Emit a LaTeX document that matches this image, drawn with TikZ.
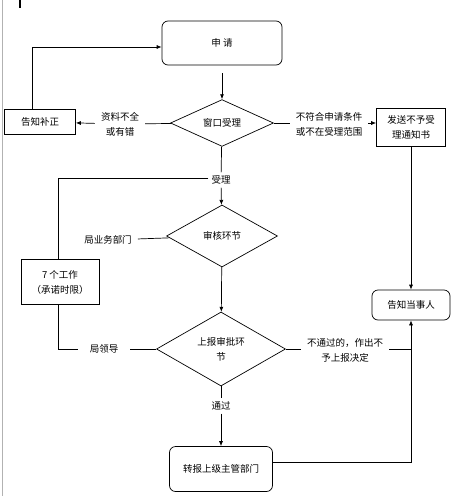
\documentclass[tikz,border=0pt]{standalone}
\usepackage{fontspec}
\newfontfamily\cjk{Noto Sans CJK SC}
\usetikzlibrary{shapes.geometric,arrows.meta}
\tikzset{
	txt/.style={font=\cjk\fontsize{9.5}{15}\selectfont, align=center},
	box/.style={draw, line width=0.7pt, txt, inner sep=0pt},
	rbox/.style={box, rounded corners=6pt},
	decide/.style={draw, diamond, line width=0.7pt, txt, inner sep=0pt},
	lbl/.style={txt, inner sep=6pt},
	flow/.style={line width=0.7pt, -{Latex[length=5pt,width=4pt]}},
	link/.style={line width=0.7pt}
}
\begin{document}
\begin{tikzpicture}[x=1pt, y=-1pt]
			%%%%% START %%%%%
			\useasboundingbox (0, 0) rectangle (463, 496);
			\draw[black!30, line width=0.8pt] (2, 0) -- (2, 496);
			\draw[line width=1.5pt] (20, 0) -- (20, 8);
			
			% boxes
			\node[rbox, minimum width=120pt, minimum height=44pt] (apply) at (222, 43) {申\ 请};
			\node[decide, minimum width=103pt, minimum height=44pt] (window) at (222, 123) {窗口受理};
			\node[box, minimum width=71pt, minimum height=25pt] (notify) at (40, 122) {告知补正};
			\node[box, minimum width=69pt, minimum height=38pt] (reject) at (411, 127) {发送不予受\\理通知书};
			\node[rbox, minimum width=78pt, minimum height=30pt] (tell) at (411, 305) {告知当事人};
			\node[decide, minimum width=111pt, minimum height=62pt] (review) at (222, 236) {审核环节};
			\node[box, minimum width=78pt, minimum height=45pt] (days) at (60, 282) {7 个工作\\（承诺时限）};
			\node[decide, minimum width=129pt, minimum height=74pt] (report) at (221, 349) {上报审批环\\节};
			\node[rbox, minimum width=103pt, minimum height=45pt] (forward) at (221, 469) {转报上级主管部门};
			
			% labels
			\node[lbl] (missing) at (120, 124) {资料不全\\或有错};
			\node[lbl] (outscope) at (329, 124) {不符合申请条件\\或不在受理范围};
			\node[lbl, inner sep=3pt] (accept) at (221, 180) {受理};
			\node[lbl] (dept) at (108, 240) {局业务部门};
			\node[lbl, inner sep=12pt] (leader) at (104, 349) {局领导};
			\node[lbl] (deny) at (345, 350) {不通过的，作出不\\予上报决定};
			\node[lbl, inner sep=3pt] (pass) at (221, 406) {通过};
			
			% connectors
			\draw[flow, shorten <=8pt] (apply) -- (window);
			\draw[link] (window) -- (missing);
			\draw[flow] (missing) -- (notify);
			\draw[flow] ([xshift=-8pt]notify.north) |- ([yshift=-4pt]apply.west);
			\draw[link] (window) -- (window -| outscope.west);
			\draw[flow] (window -| outscope.east) -- (window -| reject.west);
			\draw[flow] (reject) -- (tell);
			
			\draw[link] (window) -- (accept);
			\draw[flow] (accept) -- (review);
			\draw[link] ([yshift=2pt]accept.west) -| ([xshift=-2pt]days.north);
			\draw[link] ([xshift=-2pt]days.south) |- (leader.west);
			\draw[link] (leader) -- (report);
			\draw[link] (dept) -- (review);
			\draw[flow] (review) -- (report);
			
			\draw[link] (report) -- (pass);
			\draw[flow] (pass) -- (forward);
			\draw[link] (report) -- (report -| deny.west);
			\draw[link] (report -| deny.east) -- (report -| tell.south);
			\draw[flow] ([yshift=7pt]forward.east) -| (tell.south);
			%%%%% END %%%%%
\end{tikzpicture}
\end{document}
